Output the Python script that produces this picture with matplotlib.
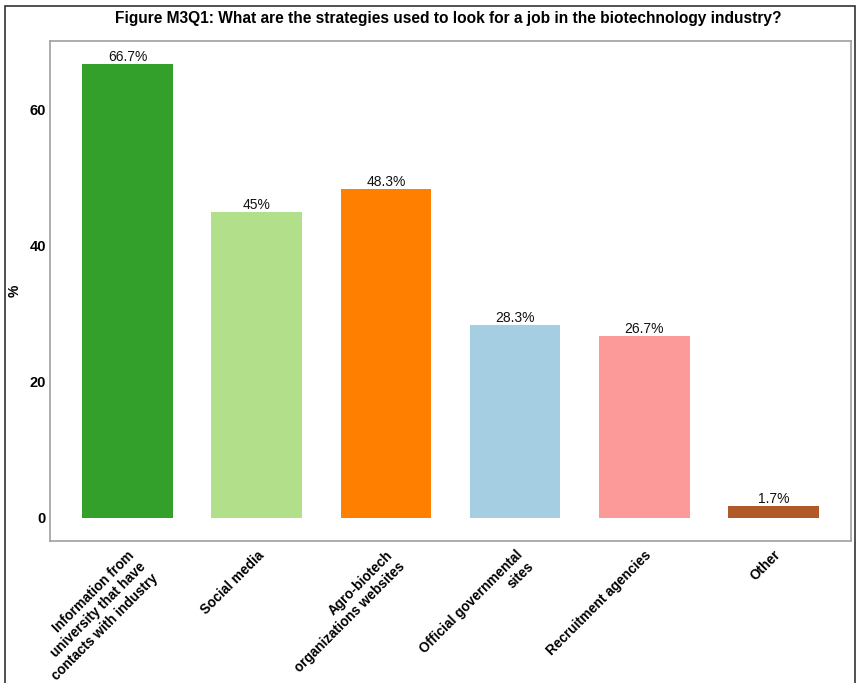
import matplotlib
matplotlib.use("Agg")
import matplotlib.pyplot as plt
from matplotlib.patches import Rectangle

plt.rcParams['font.family'] = ['Liberation Sans', 'DejaVu Sans']

# survey answers (percent of respondents)
categories = ["Information from\nuniversity that have\ncontacts with industry",
              "Social media",
              "Agro-biotech\norganizations websites",
              "Official governmental\nsites",
              "Recruitment agencies",
              "Other"]
values = [66.7, 45, 48.3, 28.3, 26.7, 1.7]
value_labels = ["66.7%", "45%", "48.3%", "28.3%", "26.7%", "1.7%"]
colors = ["#33a02c", "#b2df8a", "#ff7f00", "#a6cee3", "#fb9a99", "#b15928"]
yticks = [0, 20, 40, 60]

fig = plt.figure(figsize=(8.56, 6.83), dpi=100)
ax = fig.add_axes([50/856, 1 - 541/683, 801/856, 500/683])

x = range(len(categories))
ax.bar(x, values, width=0.7, color=colors)
for xi, v, lab in zip(x, values, value_labels):
    ax.text(xi, v + 0.45, lab, ha='center', va='baseline', fontsize=10, color='#111111')

ax.set_xlim(-0.6, 5.6)
ax.set_ylim(-3.4, 70.1)
ax.set_yticks(yticks)
ax.set_yticklabels([str(t) for t in yticks], fontsize=10.5, fontweight='bold')
ax.set_xticks(list(x))
ax.set_xticklabels(categories, rotation=45, ha='right', va='top', rotation_mode='anchor',
                   fontsize=9.8, fontweight='bold', multialignment='right', linespacing=1.2)
ax.tick_params(axis='both', length=0)
ax.tick_params(axis='y', pad=3)
ax.tick_params(axis='x', pad=5)
for s in ax.spines.values():
    s.set_color('#a0a0a0')
    s.set_linewidth(1.2)

fig.text(15/856, 1 - 291/683, '%', rotation=90, ha='center', va='center',
         fontsize=10, fontweight='bold')

fig.suptitle('Figure M3Q1: What are the strategies used to look for a job in the biotechnology industry?',
             x=448/856, y=1 - 18/683, va='center', fontsize=11.2, fontweight='bold')

# dark frame around the figure
fig.patches.append(Rectangle((5/856, -0.05), 850/856, 1.05 - 6/683, transform=fig.transFigure,
                             fill=False, edgecolor='#333333', linewidth=1.2))

fig.savefig('out.png', dpi=100)
